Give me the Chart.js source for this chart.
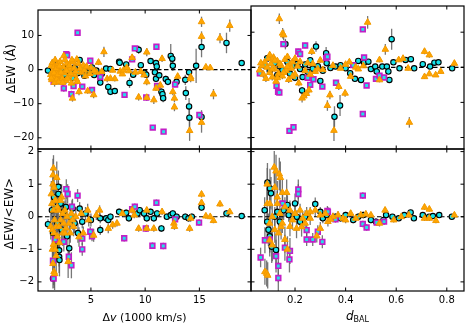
<!DOCTYPE html>
<html><head><meta charset="utf-8">
<script src="https://cdn.jsdelivr.net/npm/chart.js@4.4.1/dist/chart.umd.min.js"></script>
<style>
html,body{margin:0;padding:0;background:#fff;}
#wrap{position:relative;width:474px;height:327px;overflow:hidden;}
canvas{position:absolute;left:0;top:0;}
</style></head><body><div id="wrap">
<canvas id="tl" width="474" height="327"></canvas>
<canvas id="tr" width="474" height="327"></canvas>
<canvas id="bl" width="474" height="327"></canvas>
<canvas id="br" width="474" height="327"></canvas>
</div>
<script>
// ---------- tick labels ----------
const xTicksDv = [5, 10, 15];
const xTicksDbal = [0.2, 0.4, 0.6, 0.8];
const yTicksEW = [10, 0, -10, -20];
const yTicksFrac = [2, 1, 0, -1, -2];
const xTitleLeft = ['\u0394', 'v', ' (1000 km/s)'];
const xTitleRight = ['d', 'BAL'];
const yTitleTop = '\u0394EW (\u00C5)';
const yTitleBottom = '\u0394EW/<EW>';

// ---------- data: [x, y, error] ----------
// top-left: dv (1000 km/s) vs dEW (A)
const tlCirc = [[1.04,-0.3,0.5],[1.5,1.5,1.0],[1.7,-1.0,0.8],[1.9,0.8,0.8],[2.1,-2.0,1.0],[2.3,0.3,0.7],[2.6,-1.5,0.8],[2.9,1.0,0.7],[3.1,-0.5,0.6],[3.3,-2.5,1.0],[3.5,0.5,0.6],
[3.96,2.8,0.8],[3.8,-1.0,0.6],[4.2,0.2,0.5],[4.4,-1.8,0.7],[4.6,-0.6,0.5],[4.9,-0.8,0.6],[5.1,0.6,0.6],[5.3,-1.6,0.7],[5.5,-0.3,0.6],
[5.86,-3.8,0.9],[6.0,-1.2,0.6],[6.4,0.3,0.5],[6.6,-5.1,1.0],[6.8,-6.5,1.0],[7.2,-6.3,0.8],[6.8,0.2,0.6],[7.6,2.3,0.8],[7.65,2.0,0.7],[8.25,1.5,0.7],[8.56,-3.9,1.5],[8.9,-1.5,0.8],[9.4,5.8,1.2],[9.6,1.3,0.8],[9.94,-0.95,0.8],[10.1,-1.5,0.9],[10.5,2.5,0.8],[11.0,1.9,0.8],[11.07,0.9,0.7],[10.9,-0.8,0.7],[11.0,-2.7,0.8],[11.3,-1.7,0.8],[11.5,-6.5,1.0],[11.6,-7.2,1.0],[11.66,-8.4,1.2],[11.9,-2.8,1.0],[12.1,-3.6,1.0],[12.36,4.0,3.5],[12.5,3.2,1.5],[12.55,1.1,1.5],[12.9,-3.6,1.2],[13.7,-3.0,1.5],[13.75,-6.9,2.0],[14.05,-0.8,1.0],[14.05,-10.8,2.5],[14.08,-14.1,3.5],[14.7,1.1,5.0],[15.2,6.6,3.0],[15.2,-13.9,2.0],[17.5,7.8,3.0],[18.9,1.9,0.5]];
const tlTri = [[1.3,-1.5,0.8],[1.35,1.2,1.0],[1.4,-3.0,1.0],[1.45,2.0,1.0],[1.5,-0.5,0.8],[1.55,-2.2,1.0],[1.6,0.8,0.8],[1.65,-3.8,1.2],[1.7,2.8,1.0],[1.75,-1.2,0.8],[1.85,-2.8,1.0],[1.9,1.5,0.8],[2.0,-0.2,0.7],[2.05,-3.5,1.0],[2.15,2.3,1.0],[2.2,-1.8,0.8],[2.35,-2.6,1.0],[2.45,0.7,0.8],[2.5,4.0,1.0],[2.55,-1.0,0.8],[2.7,-3.2,1.0],[2.8,1.8,0.8],[2.95,-2.0,0.8],[3.05,0.2,0.7],[3.2,-4.0,1.0],[3.3,-8.4,1.0],[3.35,2.2,0.8],[3.5,-1.5,0.8],[3.65,-2.8,1.0],[3.7,3.0,0.8],[3.9,-6.5,1.0],[3.85,1.8,0.8],[4.1,-0.8,0.8],[4.3,1.2,0.8],[4.7,-6.3,0.8],[4.5,-1.9,0.8],[5.25,-7.4,1.0],[5.0,0.5,0.6],[5.5,-0.8,0.6],[5.7,2.1,0.8],[6.2,5.2,1.5],[6.5,-2.7,1.0],[7.2,-2.7,0.8],[7.7,-0.5,0.6],[7.9,-1.3,0.6],[8.8,3.5,1.0],[8.5,-0.4,0.6],[9.1,-0.8,0.6],[9.4,-8.1,1.0],[9.6,-0.6,0.7],[10.15,5.1,1.2],[10.15,-3.6,1.0],[10.15,-8.2,1.0],[10.8,-8.9,1.2],[11.0,-5.5,0.8],[11.4,-4.6,1.0],[11.56,3.2,1.0],[12.55,-6.5,1.0],[12.7,-8.4,1.2],[12.7,-11.0,1.2],[13.0,-2.0,0.8],[14.1,-17.9,3.0],[14.2,-2.2,1.0],[14.2,-2.7,1.0],[15.2,14.0,1.5],[15.2,9.7,1.5],[15.2,-15.5,3.0],[15.6,0.7,0.6],[16.0,0.5,0.6],[16.3,-7.2,1.5],[16.9,9.2,1.5],[17.8,12.9,1.8],
[1.35,-2.5,0.8],[1.6,-1.0,0.8],[1.8,0.3,0.8],[1.95,-1.5,0.8],[2.1,1.0,0.8],[2.25,-0.8,0.8],[2.4,-3.8,1.0],[2.6,2.8,0.8],[2.75,-0.3,0.8],[2.85,-2.6,0.8],[3.0,1.2,0.8],[3.15,-1.2,0.8],[3.25,2.8,0.8],[3.45,0.4,0.8],[3.6,-0.6,0.8],[3.75,-3.5,0.8],[4.0,0.3,0.6],[4.4,-0.2,0.6],[4.6,0.9,0.6],[4.9,-1.2,0.6],[5.3,-0.3,0.6],[6.0,-0.6,0.6],[6.8,-2.6,0.6],[7.0,-0.2,0.6],[8.0,-0.2,0.6],[8.3,0.6,0.6],[9.9,-1.6,0.6]];
const tlSq = [[1.56,-3.6,0.8],[1.8,-2.0,0.8],[2.5,-5.5,1.0],[2.73,4.5,0.8],[2.8,4.2,0.8],[3.2,-7.2,1.0],[3.4,-4.8,0.8],[3.77,10.8,0.8],[4.2,-5.0,0.8],[4.94,2.6,0.8],[5.1,-6.0,0.8],[5.86,-2.2,0.8],[8.1,-7.4,0.6],[8.8,3.0,0.6],[9.05,6.2,0.6],[10.1,-8.2,0.6],[10.7,-17.0,0.6],[11.04,6.7,0.6],[11.1,-4.8,0.6],[11.7,-18.2,0.6],[12.76,-4.4,0.6],[15.0,-13.3,0.6]];

// top-right: d_BAL vs dEW (A)
const trCirc = [[0.09,2.6,0.8],[0.08,0.5,0.6],[0.1,-1.0,0.8],[0.12,1.2,0.8],[0.13,-2.2,1.0],[0.14,0.2,0.6],[0.15,-0.8,0.7],[0.162,6.6,1.5],[0.17,1.5,0.8],[0.18,-1.8,0.8],[0.19,0.4,0.6],[0.2,-3.0,1.0],[0.21,1.0,0.7],[0.22,-0.5,0.6],[0.228,-6.6,1.0],[0.23,-2.8,0.8],[0.24,0.8,0.6],[0.25,-1.3,0.7],[0.26,2.0,0.8],[0.27,-0.4,0.6],[0.283,5.9,1.5],[0.29,0.3,0.6],[0.3,-3.9,0.8],[0.31,-1.0,0.6],[0.323,4.0,1.8],[0.325,1.2,1.0],[0.34,-0.2,0.6],[0.356,-14.1,3.0],[0.378,-10.9,3.0],[0.36,0.2,0.5],[0.38,0.6,0.5],[0.4,-0.3,0.5],[0.418,-1.7,0.6],[0.437,-3.3,0.5],[0.45,1.8,0.6],[0.461,-3.6,0.6],[0.473,1.3,0.6],[0.49,1.6,0.6],[0.5,-0.5,0.5],[0.517,0.2,0.5],[0.523,-1.2,0.6],[0.545,0.2,0.5],[0.563,0.2,0.5],[0.569,-1.2,0.5],[0.573,-3.6,0.6],[0.582,8.0,3.0],[0.589,1.4,0.6],[0.613,-0.3,0.5],[0.637,2.1,0.6],[0.658,2.3,0.6],[0.671,-0.3,0.5],[0.705,0.9,0.6],[0.734,0.2,0.5],[0.751,1.3,0.6],[0.767,1.4,0.6],[0.821,-0.3,0.5]];
const trTri = [[0.06,-0.8,0.8],[0.07,0.5,0.8],[0.075,-2.0,1.0],[0.08,1.5,0.8],[0.085,-3.2,1.0],[0.09,0.0,0.7],[0.095,2.5,1.0],[0.1,-1.5,0.8],[0.105,1.0,0.8],[0.11,-2.8,1.0],[0.115,2.8,0.9],[0.12,-0.5,0.7],[0.125,-4.0,1.0],[0.13,1.8,0.8],[0.135,-1.8,0.8],[0.138,13.8,1.5],[0.145,0.5,0.7],[0.151,9.7,1.5],[0.155,9.2,1.5],[0.15,-2.5,0.9],[0.16,2.2,0.8],[0.165,-1.0,0.7],[0.17,3.0,0.8],[0.175,-3.5,1.0],[0.18,0.8,0.7],[0.185,-0.3,0.7],[0.19,1.5,0.8],[0.2,-2.0,0.8],[0.21,0.3,0.7],[0.215,-4.5,0.9],[0.228,-8.8,1.2],[0.235,-8.2,1.0],[0.245,-7.5,1.0],[0.255,-6.5,1.0],[0.266,4.5,1.0],[0.27,1.0,0.7],[0.28,-1.2,0.7],[0.3,2.0,0.7],[0.31,-0.7,0.7],[0.328,-10.9,1.5],[0.338,-7.9,1.2],[0.354,-18.0,3.0],[0.373,-5.5,1.0],[0.398,-7.4,1.0],[0.415,1.5,0.7],[0.42,-2.6,0.7],[0.44,0.0,0.6],[0.487,12.8,1.8],[0.534,2.1,0.7],[0.534,-3.6,0.7],[0.557,5.1,1.5],[0.61,2.1,0.6],[0.627,2.5,0.6],[0.647,-0.3,0.6],[0.652,-15.7,1.5],[0.712,4.5,0.8],[0.731,3.5,0.8],[0.712,-2.7,0.6],[0.731,-1.9,0.6],[0.756,-2.2,0.6],[0.776,-1.2,0.6],[0.83,1.1,0.6],
[0.065,1.2,0.6],[0.1,3.5,0.8],[0.11,-0.5,0.6],[0.12,2.0,0.6],[0.13,-3.0,0.8],[0.14,1.0,0.6],[0.155,-1.5,0.6],[0.17,0.2,0.6],[0.19,-2.6,0.8],[0.2,2.5,0.7],[0.22,1.6,0.6],[0.24,-1.0,0.6],[0.25,1.2,0.6],[0.26,-2.0,0.7],[0.29,-0.5,0.6],[0.35,0.5,0.5],[0.38,-0.3,0.5],[0.4,0.8,0.5],[0.45,-0.5,0.5],[0.47,0.4,0.5]];
const trSq = [[0.061,-1.7,0.6],[0.127,-5.3,0.8],[0.133,-7.0,0.8],[0.138,-7.2,0.8],[0.154,6.6,0.8],[0.178,-18.1,0.8],[0.194,-17.1,0.8],[0.213,4.5,0.8],[0.22,3.8,0.8],[0.24,6.2,0.8],[0.25,-3.0,0.8],[0.273,-3.4,0.7],[0.26,-5.0,0.7],[0.308,-5.5,0.7],[0.323,2.6,0.6],[0.328,3.0,0.6],[0.362,-4.4,0.6],[0.43,0.6,0.5],[0.468,10.8,0.6],[0.468,-13.3,0.6],[0.473,2.8,0.6],[0.483,-5.2,0.6],[0.52,-3.3,0.5],[0.534,-2.4,0.5],[0.552,-2.9,0.5]];

// bottom-left: dv vs dEW/<EW>
const blCirc = [[1.04,-0.23,0.15],[1.4,0.2,0.3],[1.5,-0.5,0.4],[1.6,0.6,0.4],[1.7,-0.9,0.5],[1.8,0.3,0.3],[1.9,-0.2,0.3],[2.0,0.92,0.5],[2.0,0.7,0.4],[2.07,-1.03,0.5],[2.07,-1.23,0.5],[2.1,-1.33,0.5],[1.5,-1.9,0.3],[2.2,0.4,0.3],[2.3,-0.4,0.3],[2.5,0.15,0.3],[2.7,0.3,0.3],[2.8,-0.6,0.4],[3.0,-0.97,0.5],[3.1,0.0,0.3],[3.3,0.25,0.3],[3.5,-0.2,0.3],[3.8,-0.5,0.3],[3.96,0.25,0.2],[4.2,-0.15,0.2],[4.5,0.1,0.2],[5.0,-0.1,0.2],[5.86,-0.41,0.15],[5.86,-0.05,0.15],[6.4,-0.05,0.1],[6.6,-0.1,0.1],[6.8,0.0,0.1],[7.6,0.15,0.1],[8.25,0.12,0.1],[8.5,-0.05,0.1],[9.3,0.1,0.1],[9.5,0.2,0.1],[9.9,0.1,0.1],[10.15,-0.05,0.1],[10.5,0.15,0.1],[10.8,-0.05,0.1],[11.1,0.1,0.1],[11.5,-0.36,0.1],[12.0,0.0,0.1],[12.36,0.05,0.1],[12.55,0.1,0.1],[12.9,0.0,0.1],[13.7,0.0,0.1],[14.0,-0.05,0.1],[14.3,0.0,0.1],[15.2,0.28,0.1],[17.5,0.1,0.1],[18.9,0.02,0.05]];
const blTri = [[1.3,-0.3,0.4],[1.4,0.4,0.4],[1.45,-1.0,0.5],[1.5,1.0,0.5],[1.55,1.49,0.4],[1.5,1.28,0.5],[1.6,0.9,0.5],[1.65,-0.1,0.4],[1.5,-1.44,0.5],[1.6,-1.69,0.5],[1.65,-1.75,0.5],[1.55,-0.85,0.5],[1.7,-1.0,0.5],[1.75,0.5,0.4],[1.8,-0.3,0.4],[1.85,1.2,0.5],[1.9,-0.6,0.4],[2.0,0.2,0.4],[2.1,-0.8,0.4],[2.2,-0.1,0.4],[2.3,0.6,0.4],[2.4,-0.5,0.4],[2.5,-0.2,0.3],[2.6,0.2,0.3],[2.7,-0.35,0.3],[2.9,-1.38,0.5],[3.0,-0.2,0.3],[3.2,0.1,0.3],[3.4,-0.3,0.3],[3.6,0.0,0.3],[3.9,-0.62,0.3],[4.1,0.1,0.2],[4.3,-0.5,0.2],[4.7,0.2,0.2],[4.8,-0.1,0.2],[5.25,-0.57,0.2],[5.5,0.05,0.15],[5.8,0.2,0.15],[6.6,-0.36,0.15],[7.0,-0.25,0.12],[7.4,-0.2,0.1],[7.9,0.1,0.1],[8.8,0.2,0.1],[9.0,0.05,0.1],[9.4,-0.36,0.1],[10.15,0.2,0.1],[10.15,-0.36,0.1],[10.8,-0.36,0.1],[11.56,0.15,0.1],[12.65,-0.2,0.1],[12.7,-0.3,0.1],[14.1,-0.36,0.1],[14.2,-0.05,0.1],[15.2,0.69,0.1],[15.2,0.43,0.1],[15.6,0.02,0.08],[16.0,0.0,0.08],[16.3,-0.12,0.08],[16.9,0.39,0.08],[17.8,0.15,0.08],
[1.35,0.7,0.4],[1.45,-0.4,0.4],[1.55,0.2,0.4],[1.7,0.5,0.4],[1.6,-0.5,0.4],[1.8,-1.2,0.5],[1.9,0.3,0.4],[2.05,-0.3,0.3],[2.2,0.5,0.3],[2.4,0.1,0.3],[2.6,-0.5,0.3],[2.8,0.0,0.3],[3.1,-0.5,0.3],[3.3,-0.1,0.3]];
const blSq = [[1.56,-1.9,0.2],[1.5,-1.35,0.3],[1.7,-0.7,0.3],[2.5,-0.77,0.3],[2.73,0.85,0.3],[2.85,0.70,0.3],[2.96,-1.23,0.3],[3.2,-1.49,0.4],[3.25,0.31,0.2],[3.77,0.65,0.2],[4.2,-1.0,0.2],[4.2,-0.67,0.2],[4.94,-0.46,0.15],[5.1,-0.6,0.15],[8.07,-0.66,0.1],[8.8,0.23,0.1],[9.05,0.31,0.1],[10.06,-0.36,0.1],[10.67,-0.89,0.1],[11.04,0.43,0.1],[11.67,-0.9,0.1],[12.76,-0.08,0.1],[14.97,-0.18,0.1]];

// bottom-right: d_BAL vs dEW/<EW>
const brCirc = [[0.091,1.05,0.6],[0.101,0.87,0.6],[0.105,0.72,0.5],[0.08,0.2,0.4],[0.09,-0.15,0.4],[0.095,-0.4,0.5],[0.1,-0.6,0.5],[0.108,-0.92,0.5],[0.125,-1.02,0.5],[0.12,0.0,0.3],[0.13,0.15,0.3],[0.14,-0.15,0.3],[0.155,0.2,0.3],[0.17,0.36,0.3],[0.175,0.05,0.2],[0.2,0.41,0.3],[0.207,0.0,0.2],[0.22,-0.15,0.2],[0.24,0.0,0.2],[0.28,0.39,0.2],[0.3,0.15,0.15],[0.31,-0.05,0.15],[0.325,0.05,0.1],[0.36,0.0,0.1],[0.38,-0.05,0.1],[0.4,0.05,0.1],[0.43,-0.1,0.1],[0.45,0.0,0.1],[0.47,0.05,0.1],[0.5,-0.1,0.1],[0.52,-0.15,0.1],[0.55,-0.1,0.1],[0.56,0.05,0.1],[0.585,0.0,0.08],[0.61,-0.05,0.08],[0.632,0.05,0.08],[0.657,0.13,0.08],[0.67,-0.05,0.08],[0.705,0.05,0.08],[0.73,0.0,0.06],[0.745,0.02,0.06],[0.77,0.05,0.06],[0.82,0.0,0.06]];
const brTri = [[0.081,-1.69,0.4],[0.088,-1.74,0.4],[0.092,-1.8,0.4],[0.09,0.4,0.5],[0.1,-0.2,0.5],[0.1,-0.72,0.5],[0.11,-0.87,0.5],[0.118,1.52,0.5],[0.125,1.4,0.5],[0.138,1.31,0.5],[0.142,1.2,0.5],[0.12,0.9,0.5],[0.13,0.4,0.4],[0.135,-0.5,0.5],[0.145,-0.3,0.4],[0.15,0.74,0.4],[0.167,0.74,0.4],[0.16,-0.7,0.4],[0.17,-1.0,0.4],[0.18,0.2,0.3],[0.19,-0.1,0.3],[0.206,-0.36,0.3],[0.226,-0.31,0.3],[0.24,-0.2,0.3],[0.246,0.1,0.2],[0.26,-0.05,0.2],[0.28,0.2,0.2],[0.286,-0.59,0.2],[0.3,-0.36,0.2],[0.33,-0.15,0.15],[0.35,0.0,0.12],[0.37,0.05,0.12],[0.39,-0.05,0.1],[0.42,0.1,0.1],[0.44,-0.05,0.1],[0.534,-0.2,0.1],[0.556,0.2,0.1],[0.59,-0.1,0.08],[0.62,0.0,0.08],[0.65,0.05,0.08],[0.712,0.29,0.08],[0.731,0.23,0.08],[0.712,-0.05,0.08],[0.731,-0.05,0.08],[0.757,-0.12,0.08],[0.83,0.05,0.06],
[0.09,1.0,0.5],[0.1,0.4,0.5],[0.11,0.0,0.4],[0.12,-0.4,0.4],[0.13,0.6,0.5],[0.14,0.1,0.4],[0.15,-0.2,0.3],[0.16,0.3,0.3],[0.18,-0.3,0.3],[0.2,0.1,0.2],[0.22,0.2,0.2],[0.23,-0.05,0.2],[0.26,0.15,0.15],[0.3,0.05,0.15],[0.32,0.1,0.1],[0.34,-0.08,0.1],[0.4,-0.1,0.1],[0.46,0.05,0.1],[0.48,0.08,0.08],[0.5,0.05,0.08]];
const brSq = [[0.064,-1.25,0.3],[0.081,-0.72,0.4],[0.1,-0.70,0.4],[0.125,-1.21,0.5],[0.134,-1.51,0.5],[0.134,-1.88,0.5],[0.151,0.41,0.3],[0.16,-0.95,0.4],[0.178,-1.31,0.4],[0.18,-1.05,0.4],[0.213,0.84,0.3],[0.213,0.70,0.3],[0.246,-0.70,0.2],[0.246,-0.41,0.2],[0.27,-0.70,0.2],[0.29,-0.46,0.2],[0.308,-0.77,0.2],[0.328,0.18,0.15],[0.33,0.15,0.15],[0.36,-0.08,0.1],[0.468,0.65,0.1],[0.468,-0.22,0.1],[0.483,-0.33,0.1],[0.523,-0.18,0.1],[0.552,-0.15,0.1]];

// ---------- rendering ----------
const W = 474, H = 327;
const FONT = "'DejaVu Sans', sans-serif";
function fmt(v){ const s = String(Math.round(Math.abs(v)*100)/100); return (v < 0 ? '\u2212' : '') + s; }
function pts(a){ return a.map(d => ({x: d[0], y: d[1]})); }
function errs(a){ return a.map(d => d[2]); }

const panelPlugin = {
  id: 'panel',
  beforeDatasetsDraw(chart){
    const {ctx, chartArea: a, scales: {x, y}} = chart;
    ctx.save();
    ctx.beginPath(); ctx.rect(a.left, a.top, a.right - a.left, a.bottom - a.top); ctx.clip();
    ctx.strokeStyle = 'rgba(95,95,95,0.85)'; ctx.lineWidth = 1.3;
    chart.data.datasets.slice().reverse().forEach(ds => {
      ds.data.forEach((p, i) => {
        const e = ds.errs[i];
        const px = x.getPixelForValue(p.x);
        ctx.beginPath();
        ctx.moveTo(px, y.getPixelForValue(p.y - e));
        ctx.lineTo(px, y.getPixelForValue(p.y + e));
        ctx.stroke();
      });
    });
    const y0 = y.getPixelForValue(0);
    ctx.setLineDash([4.5, 2.5]); ctx.strokeStyle = '#000'; ctx.lineWidth = 1.2;
    ctx.beginPath(); ctx.moveTo(a.left, y0); ctx.lineTo(a.right, y0); ctx.stroke();
    ctx.restore();
  },
  afterDraw(chart){
    const {ctx, chartArea: a, scales: {x, y}} = chart;
    ctx.save();
    ctx.strokeStyle = '#000'; ctx.lineWidth = 1.2;
    ctx.strokeRect(a.left, a.top, a.right - a.left, a.bottom - a.top);
    const tl = 3.5;
    ctx.lineWidth = 1;
    x.ticks.forEach(t => {
      const px = x.getPixelForValue(t.value);
      ctx.beginPath();
      ctx.moveTo(px, a.bottom); ctx.lineTo(px, a.bottom - tl);
      ctx.moveTo(px, a.top); ctx.lineTo(px, a.top + tl);
      ctx.stroke();
    });
    y.ticks.forEach(t => {
      const py = y.getPixelForValue(t.value);
      ctx.beginPath();
      ctx.moveTo(a.left, py); ctx.lineTo(a.left + tl, py);
      ctx.moveTo(a.right, py); ctx.lineTo(a.right - tl, py);
      ctx.stroke();
    });
    const o = chart.options.plugins.panel || {};
    ctx.fillStyle = '#000';
    if (o.yTitle) {
      ctx.save();
      ctx.translate(o.yTitle.x, o.yTitle.y);
      ctx.rotate(-Math.PI / 2);
      ctx.font = '12px ' + FONT;
      ctx.textAlign = 'center'; ctx.textBaseline = 'alphabetic';
      ctx.fillText(o.yTitle.text, 0, 0);
      ctx.restore();
    }
    if (o.xTitle) {
      const parts = o.xTitle.parts;
      let total = 0;
      parts.forEach(p => { ctx.font = p.font; p.w = ctx.measureText(p.text).width; total += p.w; });
      let cx = o.xTitle.x - total / 2;
      ctx.textAlign = 'left'; ctx.textBaseline = 'alphabetic';
      parts.forEach(p => { ctx.font = p.font; ctx.fillText(p.text, cx, o.xTitle.y + (p.dy || 0)); cx += p.w; });
    }
    ctx.restore();
  }
};

function makePanel(id, rect, xr, yr, xt, yt, showX, showY, circ, sq, tri, extra){
  const [L, T, R, B] = rect;
  return new Chart(document.getElementById(id), {
    type: 'scatter',
    data: { datasets: [
      { data: pts(tri), errs: errs(tri), order: 1, pointStyle: 'triangle', pointRadius: 3.8,
        pointBackgroundColor: '#ffa500', pointBorderColor: '#f29a00', pointBorderWidth: 1,
        backgroundColor: '#ffa500', borderColor: '#f29a00' },
      { data: pts(sq), errs: errs(sq), order: 2, pointStyle: 'rect', pointRadius: 3.3,
        pointBackgroundColor: '#22e0e8', pointBorderColor: '#c21fc6', pointBorderWidth: 1.7,
        backgroundColor: '#22e0e8', borderColor: '#c21fc6' },
      { data: pts(circ), errs: errs(circ), order: 3, pointStyle: 'circle', pointRadius: 2.7,
        pointBackgroundColor: '#17e3ea', pointBorderColor: '#000', pointBorderWidth: 1.1,
        backgroundColor: '#17e3ea', borderColor: '#000' }
    ]},
    options: {
      responsive: false, animation: false, devicePixelRatio: 1, events: [],
      layout: { padding: { left: 0, top: T, right: W - R, bottom: 0 }, autoPadding: false },
      plugins: { legend: { display: false }, tooltip: { enabled: false }, panel: extra || {} },
      scales: {
        x: { type: 'linear', min: xr[0], max: xr[1],
             afterBuildTicks(s){ s.ticks = xt.map(v => ({ value: v })); },
             afterFit(s){ s.height = H - B; },
             grid: { display: false, drawTicks: false }, border: { display: false },
             ticks: { display: showX, padding: 3, autoSkip: false, maxRotation: 0, minRotation: 0, color: '#000',
                      font: { family: FONT, size: 10 }, callback: v => fmt(v) } },
        y: { type: 'linear', min: yr[0], max: yr[1],
             afterBuildTicks(s){ s.ticks = yt.map(v => ({ value: v })); },
             afterFit(s){ s.width = L; },
             grid: { display: false, drawTicks: false }, border: { display: false },
             ticks: { display: showY, padding: 4, autoSkip: false, color: '#000',
                      font: { family: FONT, size: 10 }, callback: v => fmt(v) } }
      }
    },
    plugins: [panelPlugin]
  });
}

const dvRange = [0.12, 19.76], dbRange = [0.026, 0.868];
const ewRange = [-23.28, 17.46], frRange = [-2.28, 2.08];
const rTL = [38, 6, 251, 149], rTR = [251, 6, 464, 149], rBL = [38, 149, 251, 291], rBR = [251, 149, 464, 291];

makePanel('tl', rTL, dvRange, ewRange, xTicksDv, yTicksEW, false, true, tlCirc, tlSq, tlTri,
  { yTitle: { text: yTitleTop, x: 14.5, y: 68.5 } });
makePanel('tr', rTR, dbRange, ewRange, xTicksDbal, yTicksEW, false, false, trCirc, trSq, trTri, {});
makePanel('bl', rBL, dvRange, frRange, xTicksDv, yTicksFrac, true, true, blCirc, blSq, blTri,
  { yTitle: { text: yTitleBottom, x: 13, y: 213.5 },
    xTitle: { x: 144.5, y: 320.5, parts: [
      { text: xTitleLeft[0], font: '11px ' + FONT },
      { text: xTitleLeft[1], font: 'italic 11px ' + FONT },
      { text: xTitleLeft[2], font: '11px ' + FONT } ] } });
makePanel('br', rBR, dbRange, frRange, xTicksDbal, yTicksFrac, true, false, brCirc, brSq, brTri,
  { xTitle: { x: 357.5, y: 319.5, parts: [
      { text: xTitleRight[0], font: 'italic 12px ' + FONT },
      { text: xTitleRight[1], font: '8px ' + FONT, dy: 2.5 } ] } });
</script></body></html>
